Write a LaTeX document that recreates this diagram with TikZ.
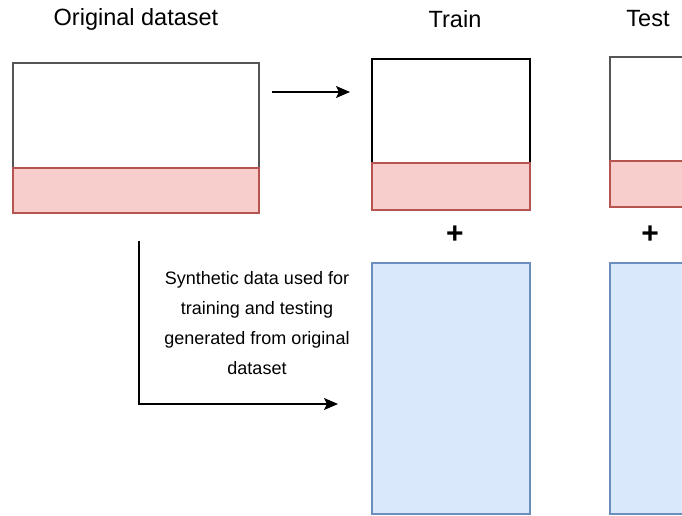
\documentclass[tikz,border=0pt]{standalone}
\usepackage{fontspec}
\setmainfont{Liberation Sans}
\usetikzlibrary{arrows.meta}
\definecolor{redfill}{HTML}{F8CECC}
\definecolor{redline}{HTML}{B85450}
\definecolor{bluefill}{HTML}{DAE8FC}
\definecolor{blueline}{HTML}{6C8EBF}
\definecolor{boxgray}{HTML}{555555}
\begin{document}
\begin{tikzpicture}[x=1pt,y=-1pt,
  whitebox/.style={draw=boxgray,fill=white,line width=1.3pt,minimum width=#1,inner sep=0pt},
  redbox/.style={draw=redline,fill=redfill,line width=1.3pt,minimum width=#1,inner sep=0pt},
  bluebox/.style={draw=blueline,fill=bluefill,line width=1.3pt,minimum width=#1,inner sep=0pt},
  title/.style={font=\fontsize{23.5}{26}\selectfont,inner sep=0pt},
  plus/.style={font=\fontsize{30}{30}\selectfont\bfseries,inner sep=0pt},
  arr/.style={line width=1.3pt,-{Stealth[length=14pt,width=12pt,inset=3pt]}},
  desc/.style={font=\fontsize{18}{30}\selectfont,align=center,inner sep=0pt}
]
\clip (0,0) rectangle (682,516);
\fill[white] (0,0) rectangle (682,516);
% titles
\node[title] (t1) at (136,19) {Original dataset};
\node[title] (t2) at (455,19) {Train};
\node[title] (t3) at (648,19) {Test};
% original
\node[whitebox=246pt,minimum height=105pt] (ow) at (136,115.5) {};
\node[redbox=246pt,minimum height=45pt] (or) at (136,190.5) {};
% train
\node[whitebox=158pt,minimum height=104pt,draw=black] (trw) at (451,111) {};
\node[redbox=158pt,minimum height=47pt] (trr) at (451,186.5) {};
\node[bluebox=158pt,minimum height=251pt] (trb) at (451,388.5) {};
% test
\node[whitebox=158pt,minimum height=104pt] (tew) at (689,109) {};
\node[redbox=158pt,minimum height=46pt] (ter) at (689,184) {};
\node[bluebox=158pt,minimum height=251pt] (teb) at (689,388.5) {};
% plus
\node[plus] (p1) at (455,235) {+};
\node[plus] (p2) at (650,235) {+};
% arrows
\coordinate (a1) at (272,92);
\coordinate (a2) at (350,92);
\draw[arr] (a1) -- (a2);
\coordinate (b1) at (139,241);
\coordinate (b2) at (139,404);
\coordinate (b3) at (338,404);
\draw[arr] (b1) -- (b2) -- (b3);
\node[desc] (d) at (257,323) {Synthetic data used for\\training and testing\\generated from original\\dataset};
\end{tikzpicture}
\end{document}
